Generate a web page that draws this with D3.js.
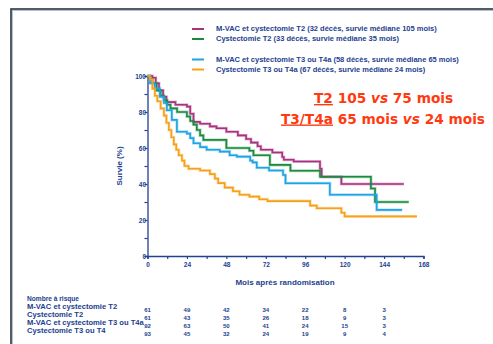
<!DOCTYPE html>
<html>
<head>
<meta charset="utf-8">
<script src="https://cdn.jsdelivr.net/npm/d3@7"></script>
<style>
  body { margin: 0; background: #fff; }
  svg text { font-family: "Liberation Sans", Arial, sans-serif; font-weight: bold; }
</style>
</head>
<body>
<div id="chart"></div>
<script>
// survival curves, [month, survival %]
const mvacT2 = [[0,100],[3,99],[5,96],[7,92],[9.5,88.5],[11.5,85.5],[17,84],[24,83],[26,79],[28,74.5],[32,73.5],[38,72],[42,71],[48,69],[55,67],[60,65],[63,63],[67,61],[69,59],[76,57.5],[82,55],[83,53.5],[89,52.5],[105,48.5],[106,44],[118,40],[156,40]];
const cystT2 = [[0,100],[1.5,98],[3,96],[5.5,92],[8,89],[10,86.5],[12,84],[14,82],[18,80],[24,77.5],[26,75],[28,73],[30,70],[32,67],[34,64.5],[46,64.5],[48,60],[62,58.5],[64.5,56],[74.5,50.6],[87,47.4],[105,44],[136,37.5],[138.5,30],[159,30]];
const mvacT3 = [[0,100],[1.5,96],[4.5,93],[7.5,88.5],[10,85],[11.8,81],[14.8,75.6],[17.9,69],[24,68],[26,65.5],[28,62.6],[32,60.5],[36,59],[44,58],[50,56],[54.4,55.2],[62.5,53],[64,52],[66.5,49],[74,47.5],[82.5,45],[84,40.4],[111,34],[139.5,25.6],[155,25.6]];
const cystT3 = [[0,100],[1.5,98],[3,93],[4.5,89],[6,86],[8,82],[10,78],[11.5,74],[13,70],[14.5,66],[16,62],[17.5,59],[19,56],[21,53],[22.5,50],[25,48.5],[32,47.5],[38,45.5],[41,43],[43,40.5],[47,38],[52,36],[56,34],[62,33],[68,31.5],[73,30.5],[99,28],[103,26.5],[118,24],[120,22],[164,22]];

const seriesNames = ["M-VAC et cystectomie T2 (32 décès, survie médiane 105 mois)",
                     "Cystectomie T2 (33 décès, survie médiane 35 mois)",
                     "M-VAC et cystectomie T3 ou T4a (58 décès, survie médiane 65 mois)",
                     "Cystectomie T3 ou T4a (67 décès, survie médiane 24 mois)"];
const colors = ["#a8327f", "#1b8a3e", "#1ea3e6", "#f7a01a"];

const xTicks = [0, 24, 48, 72, 96, 120, 144, 168];
const yTicks = [0, 20, 40, 60, 80, 100];

// number at risk
const riskTimes = [0, 24, 48, 72, 96, 120, 144];
const riskLabels = ["M-VAC et cystectomie T2", "Cystectomie T2", "M-VAC et cystectomie T3 ou T4a", "Cystectomie T3 ou T4"];
const riskMvacT2 = [61, 49, 42, 34, 22, 8, 3];
const riskCystT2 = [61, 43, 35, 26, 18, 9, 3];
const riskMvacT3 = [92, 63, 50, 41, 24, 15, 3];
const riskCystT3 = [93, 45, 32, 24, 19, 9, 4];

const curves = [mvacT2, cystT2, mvacT3, cystT3];
const riskRows = [riskMvacT2, riskCystT2, riskMvacT3, riskCystT3];

const width = 493, height = 344;
const navy = "#23418f";
const red = "#ff3a10";

const svg = d3.select("#chart").append("svg")
    .attr("width", width)
    .attr("height", height);

// slide frame
svg.append("path")
    .attr("d", "M11.5,344 V9.5 H493")
    .attr("fill", "none")
    .attr("stroke", "#b8c0c8")
    .attr("stroke-width", 3);
svg.append("path")
    .attr("d", "M11,344 V9 H493")
    .attr("fill", "none")
    .attr("stroke", "#2e3b48")
    .attr("stroke-width", 1.5);

const x = d3.scaleLinear().domain([0, 168]).range([147.5, 423.5]);
const y = d3.scaleLinear().domain([0, 100]).range([256, 76]);

// axes
const xAxis = svg.append("g")
    .attr("transform", "translate(0," + y(0) + ")")
    .call(d3.axisBottom(x).tickValues(d3.range(0, 169, 12)).tickSize(3)
        .tickFormat(d => xTicks.includes(d) ? d : ""));
const yAxis = svg.append("g")
    .attr("transform", "translate(" + x(0) + ",0)")
    .call(d3.axisLeft(y).tickValues(d3.range(0, 101, 10)).tickSize(3)
        .tickFormat(d => yTicks.includes(d) ? d : ""));

[xAxis, yAxis].forEach(g => {
  g.select(".domain").attr("stroke", navy).attr("stroke-width", 1.3);
  g.selectAll(".tick line").attr("stroke", navy).attr("stroke-width", 1.2);
  g.selectAll(".tick text").attr("fill", navy)
      .style("font-size", "6.5px").style("font-weight", "bold");
});
xAxis.selectAll(".tick text").attr("dy", "0.75em");
yAxis.selectAll(".tick text").attr("x", -1.5);

svg.append("text")
    .attr("x", 285).attr("y", 285)
    .attr("text-anchor", "middle")
    .attr("fill", navy)
    .style("font-size", "8px")
    .text("Mois après randomisation");

svg.append("text")
    .attr("transform", "translate(122,166) rotate(-90)")
    .attr("text-anchor", "middle")
    .attr("fill", navy)
    .style("font-size", "8px")
    .text("Survie (%)");

// curves
const line = d3.line()
    .x(d => x(d[0]))
    .y(d => y(d[1]))
    .curve(d3.curveStepAfter);

curves.forEach((c, i) => {
  svg.append("path")
      .datum(c)
      .attr("d", line)
      .attr("fill", "none")
      .attr("stroke", colors[i])
      .attr("stroke-opacity", 0.35)
      .attr("stroke-width", 3);
  svg.append("path")
      .datum(c)
      .attr("d", line)
      .attr("fill", "none")
      .attr("stroke", colors[i])
      .attr("stroke-width", 1.6);
});

// legend
const legendY = [29, 39, 59.5, 69.5];
const legend = svg.selectAll(".legend")
    .data(seriesNames)
    .enter().append("g")
    .attr("class", "legend")
    .attr("transform", (d, i) => "translate(0," + legendY[i] + ")");

legend.append("line")
    .attr("x1", 192).attr("x2", 204)
    .attr("y1", 0).attr("y2", 0)
    .attr("stroke", (d, i) => colors[i])
    .attr("stroke-width", 2);

legend.append("text")
    .attr("x", 216).attr("y", 2)
    .attr("fill", navy)
    .style("font-size", "7.5px")
    .text(d => d);

// big red annotation
const note = svg.append("g").attr("fill", red);

const l1 = note.append("text").attr("x", 314).attr("y", 103)
    .style("font-family", "'DejaVu Sans', Verdana, sans-serif")
    .style("font-size", "13.7px");
l1.append("tspan").attr("text-decoration", "underline").text("T2");
l1.append("tspan").text(" 105 ");
l1.append("tspan").style("font-style", "italic").text("vs");
l1.append("tspan").text(" 75 mois");

const l2 = note.append("text").attr("x", 281).attr("y", 123.5)
    .style("font-family", "'DejaVu Sans', Verdana, sans-serif")
    .style("font-size", "13.7px");
l2.append("tspan").attr("text-decoration", "underline").text("T3/T4a");
l2.append("tspan").text(" 65 mois ");
l2.append("tspan").style("font-style", "italic").text("vs");
l2.append("tspan").text(" 24 mois");

// number at risk table
svg.append("text")
    .attr("x", 27).attr("y", 300.5)
    .attr("fill", navy)
    .style("font-size", "6.6px")
    .text("Nombre à risque");

const labelY = [309, 316.8, 325, 333];
const numY = [311.5, 319.5, 327.8, 335.6];

riskLabels.forEach((lab, i) => {
  svg.append("text")
      .attr("x", 27).attr("y", labelY[i])
      .attr("fill", navy)
      .style("font-size", "7.6px")
      .text(lab);
  svg.selectAll(".risk" + i)
      .data(riskRows[i])
      .enter().append("text")
      .attr("class", "risk" + i)
      .attr("x", (d, j) => x(riskTimes[j]))
      .attr("y", numY[i])
      .attr("text-anchor", "middle")
      .attr("fill", navy)
      .style("font-size", "6px")
      .text(d => d);
});
</script>
</body>
</html>
